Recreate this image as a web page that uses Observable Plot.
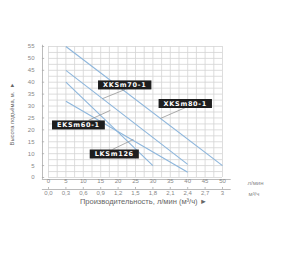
<!DOCTYPE html>
<html><head><meta charset="utf-8">
<script src="https://cdn.jsdelivr.net/npm/d3@7"></script>
<script src="https://cdn.jsdelivr.net/npm/@observablehq/plot@0.6"></script>
<style>
body{margin:0;background:#fff;}
#chart{width:300px;height:259px;}
</style>
</head><body><div id="chart"></div>
<script>
// tick labels
const flowTicks = [0, 5, 10, 15, 20, 25, 30, 35, 40, 45, 50];
const flowM3hLabels = ["0,0", "0,3", "0,6", "0,9", "1,2", "1,5", "1,8", "2,1", "2,4", "2,7", "3"];
const headTicks = [0, 5, 10, 15, 20, 25, 30, 35, 40, 45, 50, 55];
const gridFlow = [0, 2.5, 5, 7.5, 10, 12.5, 15, 17.5, 20, 22.5, 25, 27.5, 30, 32.5, 35, 37.5, 40, 42.5, 45, 47.5, 50];
const gridHead = [0, 2.5, 5, 7.5, 10, 12.5, 15, 17.5, 20, 22.5, 25, 27.5, 30, 32.5, 35, 37.5, 40, 42.5, 45, 47.5, 50, 52.5, 55];

// pump curves (flow l/min, head m)
const models = ["XKSm80-1", "XKSm70-1", "EKSm60-1", "LKSm126"];
const startFlow = [5, 5, 5, 5];
const startHead = [55, 45, 40, 32];
const endFlow = [50, 40, 30, 40];
const endHead = [5, 5.5, 5, 2.2];

// label boxes (data coords) and leader lines
const labelFlow = [39.3, 21.9, 8.6, 18.9];
const labelHead = [31.1, 38.9, 22.1, 9.9];
const leaderFromFlow = [39.4, 22.1, 11.5, 18.4];
const leaderFromHead = [29.4, 37.0, 24.0, 11.8];
const leaderToFlow = [32.2, 15.5, 17.8, 24.4];
const leaderToHead = [24.8, 33.1, 28.2, 16.0];

const curves = models.map((m, i) => ({m, x1: startFlow[i], y1: startHead[i], x2: endFlow[i], y2: endHead[i]}));
const labels = models.map((m, i) => ({m, x: labelFlow[i], y: labelHead[i]}));
const leaders = models.map((m, i) => ({x1: leaderFromFlow[i], y1: leaderFromHead[i], x2: leaderToFlow[i], y2: leaderToHead[i]}));
const m3 = flowTicks.map((f, i) => ({f, t: flowM3hLabels[i]}));

const chart = Plot.plot({
  width: 300,
  height: 259,
  marginLeft: 48,
  marginRight: 78,
  marginTop: 46,
  marginBottom: 82,
  x: {domain: [0, 50], axis: null},
  y: {domain: [0, 55], axis: null},
  style: {fontFamily: "'Liberation Sans', Arial, sans-serif", fontSize: "6px", color: "#888", background: "#fff"},
  marks: [
    Plot.ruleX(gridFlow, {stroke: "#d4d4d4", strokeWidth: 0.8}),
    Plot.ruleY(gridHead, {stroke: "#d4d4d4", strokeWidth: 0.8}),
    // y axis line and ticks
    Plot.ruleX([0], {dx: -6, y1: -0.8, y2: 55.5, stroke: "#aaa", strokeWidth: 0.8}),
    Plot.ruleY(headTicks, {x1: -1.75, x2: -1.1, stroke: "#aaa", strokeWidth: 0.8}),
    // x axis lines
    Plot.ruleY([0], {x1: -1.75, x2: 52.5, dy: 2, stroke: "#aaa", strokeWidth: 0.8}),
    Plot.ruleY([0], {x1: -1.75, x2: 52.5, dy: 12, stroke: "#aaa", strokeWidth: 0.8}),
    Plot.ruleX(flowTicks, {y1: -4.2, y2: -5.0, stroke: "#aaa", strokeWidth: 0.8}),
    // tick labels
    Plot.text(headTicks, {y: d => d, frameAnchor: "left", dx: -14, textAnchor: "end", fill: "#888"}),
    Plot.text(flowTicks, {x: d => d, frameAnchor: "bottom", dy: 5.5, fill: "#888"}),
    Plot.text(m3, {x: "f", text: "t", frameAnchor: "bottom", dy: 17.5, fill: "#888"}),
    Plot.text(["л/мин"], {frameAnchor: "bottom-right", dx: 25, dy: 7, textAnchor: "start", fill: "#888"}),
    Plot.text(["м³/ч"], {frameAnchor: "bottom-right", dx: 26, dy: 18, textAnchor: "start", fill: "#888"}),
    Plot.text(["Производительность, л/мин (м³/ч) ►"], {frameAnchor: "bottom", dx: 8, dy: 26, textAnchor: "middle", fill: "#666", fontSize: 7.5}),
    Plot.text(["Высота подъёма, м.  ►"], {frameAnchor: "left", dx: -36, dy: 2, rotate: -90, textAnchor: "middle", fill: "#666", fontSize: 5.8}),
    // curves
    Plot.link(curves, {x1: "x1", y1: "y1", x2: "x2", y2: "y2", stroke: "#8db6dc", strokeWidth: 1.1}),
    // leaders
    Plot.link(leaders, {x1: "x1", y1: "y1", x2: "x2", y2: "y2", stroke: "#8a8a8a", strokeWidth: 0.7}),
    // labels
    Plot.text(labels, {x: "x", y: "y", text: "m", fill: "white", fontWeight: "bold", fontSize: 6.5, fontFamily: "'DejaVu Sans', sans-serif"})
  ]
});
document.getElementById("chart").append(chart);

// black boxes behind model labels
chart.querySelectorAll('g[fill="white"] text').forEach(t => {
  t.setAttribute("letter-spacing", "0.7");
  const b = t.getBBox();
  const r = document.createElementNS("http://www.w3.org/2000/svg", "rect");
  const w = b.width + 10, h = 9;
  r.setAttribute("x", b.x + b.width / 2 - w / 2);
  r.setAttribute("y", b.y + b.height / 2 - h / 2);
  r.setAttribute("width", w);
  r.setAttribute("height", h);
  r.setAttribute("fill", "#1e1e1e");
  const tr = t.getAttribute("transform");
  if (tr) r.setAttribute("transform", tr);
  t.parentNode.insertBefore(r, t);
});
</script>
</body></html>
